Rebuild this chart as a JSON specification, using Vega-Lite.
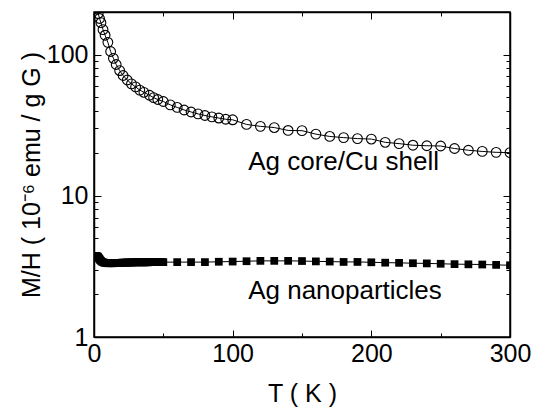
{
  "$schema": "https://vega.github.io/schema/vega-lite/v6.json",
  "autosize": {"type": "none"},
  "padding": {"left": 94, "top": 12, "right": 24, "bottom": 70},
  "width": 416,
  "height": 325,
  "background": "white",
  "config": {
    "view": {"stroke": "black", "strokeWidth": 1.5},
    "font": "Liberation Sans"
  },
  "datasets": {
    "shell": [
      {"T": 2, "v": 210}, {"T": 3, "v": 195}, {"T": 4, "v": 180}, {"T": 5, "v": 168},
      {"T": 6.5, "v": 150}, {"T": 8, "v": 137}, {"T": 10, "v": 122}, {"T": 12, "v": 105},
      {"T": 14, "v": 94}, {"T": 16, "v": 85}, {"T": 18.5, "v": 77}, {"T": 21, "v": 71},
      {"T": 24, "v": 66}, {"T": 27, "v": 62}, {"T": 30, "v": 59}, {"T": 33, "v": 56},
      {"T": 36, "v": 54}, {"T": 40, "v": 51.5}, {"T": 43, "v": 49.5}, {"T": 46, "v": 48},
      {"T": 50, "v": 46.5}, {"T": 55, "v": 44}, {"T": 60, "v": 42.2}, {"T": 65, "v": 40.5},
      {"T": 70, "v": 39.2}, {"T": 75, "v": 38}, {"T": 80, "v": 37}, {"T": 85, "v": 36.2},
      {"T": 90, "v": 35.5}, {"T": 95, "v": 34.8}, {"T": 100, "v": 34.5}, {"T": 110, "v": 32},
      {"T": 120, "v": 31}, {"T": 130, "v": 30.4}, {"T": 140, "v": 29}, {"T": 150, "v": 28.9},
      {"T": 160, "v": 27.3}, {"T": 170, "v": 26.3}, {"T": 180, "v": 25.8}, {"T": 190, "v": 25.4},
      {"T": 200, "v": 25.2}, {"T": 210, "v": 23.9}, {"T": 220, "v": 23.4}, {"T": 230, "v": 22.8},
      {"T": 240, "v": 22.6}, {"T": 250, "v": 22.5}, {"T": 260, "v": 21.6}, {"T": 270, "v": 21},
      {"T": 280, "v": 20.6}, {"T": 290, "v": 20.3}, {"T": 300, "v": 20.2}
    ],
    "nano": [
      {"T": 1.8, "v": 3.75}, {"T": 2.5, "v": 3.72}, {"T": 3, "v": 3.68}, {"T": 3.5, "v": 3.62},
      {"T": 4, "v": 3.56}, {"T": 4.5, "v": 3.5}, {"T": 5, "v": 3.46}, {"T": 6, "v": 3.4},
      {"T": 7, "v": 3.37}, {"T": 8, "v": 3.35}, {"T": 9, "v": 3.34}, {"T": 10, "v": 3.33},
      {"T": 11, "v": 3.33}, {"T": 12, "v": 3.33}, {"T": 13, "v": 3.33}, {"T": 14, "v": 3.33},
      {"T": 15, "v": 3.34}, {"T": 16, "v": 3.34}, {"T": 17, "v": 3.35}, {"T": 18, "v": 3.35},
      {"T": 19, "v": 3.35}, {"T": 20, "v": 3.36}, {"T": 21, "v": 3.36}, {"T": 22, "v": 3.36},
      {"T": 23, "v": 3.36}, {"T": 24, "v": 3.37}, {"T": 25, "v": 3.37}, {"T": 26, "v": 3.37},
      {"T": 27, "v": 3.37}, {"T": 28, "v": 3.37}, {"T": 29, "v": 3.38}, {"T": 30, "v": 3.38},
      {"T": 31, "v": 3.38}, {"T": 32, "v": 3.38}, {"T": 33, "v": 3.38}, {"T": 34, "v": 3.38},
      {"T": 35, "v": 3.38}, {"T": 36, "v": 3.38}, {"T": 37, "v": 3.38}, {"T": 38, "v": 3.38},
      {"T": 39, "v": 3.38}, {"T": 40, "v": 3.39}, {"T": 41, "v": 3.39}, {"T": 42, "v": 3.39},
      {"T": 43, "v": 3.39}, {"T": 44, "v": 3.39}, {"T": 45, "v": 3.39}, {"T": 46, "v": 3.39},
      {"T": 47, "v": 3.39}, {"T": 48, "v": 3.39}, {"T": 49, "v": 3.39}, {"T": 50, "v": 3.39},
      {"T": 60, "v": 3.39}, {"T": 70, "v": 3.39}, {"T": 80, "v": 3.39}, {"T": 90, "v": 3.41},
      {"T": 100, "v": 3.42}, {"T": 110, "v": 3.44}, {"T": 120, "v": 3.46}, {"T": 130, "v": 3.46},
      {"T": 140, "v": 3.46}, {"T": 150, "v": 3.45}, {"T": 160, "v": 3.43}, {"T": 170, "v": 3.42},
      {"T": 180, "v": 3.40}, {"T": 190, "v": 3.40}, {"T": 200, "v": 3.38}, {"T": 210, "v": 3.36},
      {"T": 220, "v": 3.35}, {"T": 230, "v": 3.33}, {"T": 240, "v": 3.32}, {"T": 250, "v": 3.30},
      {"T": 260, "v": 3.28}, {"T": 270, "v": 3.27}, {"T": 280, "v": 3.26}, {"T": 290, "v": 3.24},
      {"T": 300, "v": 3.22}
    ],
    "labels": [
      {"T": 180, "v": 15.3, "label": "Ag core/Cu shell"},
      {"T": 181, "v": 1.86, "label": "Ag nanoparticles"}
    ]
  },
  "layer": [
    {
      "encoding": {
        "x": {
          "field": "T", "type": "quantitative",
          "scale": {"domain": [0, 300], "nice": false, "zero": false},
          "axis": {
            "orient": "bottom",
            "values": [0, 50, 100, 150, 200, 250, 300],
            "labelExpr": "datum.value % 100 == 0 ? datum.label : ''",
            "tickSize": {"condition": {"test": "datum.value % 100 == 0", "value": -7}, "value": -4},
            "tickColor": "black", "tickWidth": 1,
            "domainColor": "black", "domainWidth": 1.5,
            "grid": false, "labelFlush": false,
            "labelFont": "Liberation Sans", "labelFontSize": 25, "labelColor": "black",
            "labelPadding": 11,
            "title": "T ( K )",
            "titleFont": "Liberation Sans", "titleFontSize": 25, "titleFontWeight": "normal",
            "titleColor": "black", "titlePadding": 15
          }
        },
        "y": {
          "field": "v", "type": "quantitative",
          "scale": {"type": "log", "domain": [1, 200], "nice": false},
          "axis": {
            "orient": "left",
            "values": [1, 2, 3, 4, 5, 6, 7, 8, 9, 10, 20, 30, 40, 50, 60, 70, 80, 90, 100, 200],
            "labelExpr": "(datum.value == 1 || datum.value == 10 || datum.value == 100) ? format(datum.value, 'd') : ''",
            "tickSize": {"condition": {"test": "datum.value == 1 || datum.value == 10 || datum.value == 100", "value": -7}, "value": -4},
            "tickColor": "black", "tickWidth": 1,
            "domainColor": "black", "domainWidth": 1.5,
            "grid": false, "labelFlush": false,
            "labelFont": "Liberation Sans", "labelFontSize": 25, "labelColor": "black",
            "labelPadding": 13,
            "title": "M/H ( 10⁻⁶ emu / g G )",
            "titleFont": "Liberation Sans", "titleFontSize": 25, "titleFontWeight": "normal",
            "titleColor": "black", "titlePadding": 2
          }
        }
      },
      "layer": [
        {
          "data": {"name": "shell"},
          "mark": {"type": "line", "color": "black", "strokeWidth": 1, "clip": true}
        },
        {
          "data": {"name": "shell"},
          "mark": {"type": "point", "shape": "circle", "filled": false, "stroke": "black", "strokeWidth": 1.1, "size": 95, "opacity": 1, "clip": true}
        },
        {
          "data": {"name": "nano"},
          "mark": {"type": "line", "color": "black", "strokeWidth": 1, "clip": true}
        },
        {
          "data": {"name": "nano"},
          "mark": {"type": "point", "shape": "square", "filled": true, "color": "black", "size": 60, "opacity": 1, "clip": true}
        },
        {
          "data": {"name": "labels"},
          "mark": {"type": "text", "font": "Liberation Sans", "fontSize": 26, "color": "black", "align": "center", "baseline": "alphabetic"},
          "encoding": {"text": {"field": "label"}}
        }
      ]
    },
    {
      "data": {"name": "shell"},
      "mark": {"type": "point", "opacity": 0},
      "encoding": {
        "x": {
          "field": "T", "type": "quantitative",
          "scale": {"domain": [0, 300], "nice": false, "zero": false},
          "axis": {
            "orient": "top",
            "values": [0, 50, 100, 150, 200, 250, 300],
            "labels": false,
            "tickSize": {"condition": {"test": "datum.value % 100 == 0", "value": -7}, "value": -4},
            "tickColor": "black", "tickWidth": 1,
            "domainColor": "black", "domainWidth": 1.5,
            "grid": false, "title": null
          }
        },
        "y": {
          "field": "v", "type": "quantitative",
          "scale": {"type": "log", "domain": [1, 200], "nice": false},
          "axis": {
            "orient": "right",
            "values": [1, 2, 3, 4, 5, 6, 7, 8, 9, 10, 20, 30, 40, 50, 60, 70, 80, 90, 100, 200],
            "labels": false,
            "tickSize": {"condition": {"test": "datum.value == 1 || datum.value == 10 || datum.value == 100", "value": -7}, "value": -4},
            "tickColor": "black", "tickWidth": 1,
            "domainColor": "black", "domainWidth": 1.5,
            "grid": false, "title": null
          }
        }
      }
    }
  ],
  "resolve": {"axis": {"x": "independent", "y": "independent"}}
}
